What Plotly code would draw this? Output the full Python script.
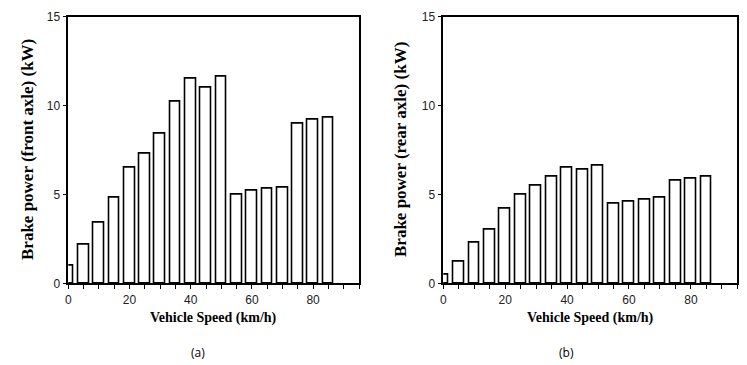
import plotly.graph_objects as go

speed = [0, 5, 10, 15, 20, 25, 30, 35, 40, 45, 50, 55, 60, 65, 70, 75, 80, 85]
front_power = [1.0, 2.2, 3.4, 4.8, 6.5, 7.3, 8.4, 10.2, 11.5, 11.0, 11.6, 5.0, 5.2, 5.3, 5.4, 9.0, 9.2, 9.3]
rear_power = [0.5, 1.2, 2.3, 3.0, 4.2, 5.0, 5.5, 6.0, 6.5, 6.4, 6.6, 4.5, 4.6, 4.7, 4.8, 5.8, 5.9, 6.0]
x_ticks = [0, 20, 40, 60, 80]
y_ticks = [0, 5, 10, 15]
y_titles = ["Brake power (front axle) (kW)", "Brake power (rear axle) (kW)"]
panel_labels = ["(a)", "(b)"]

W, H = 747, 365
fig = go.Figure()

bar_style = dict(marker=dict(color="white", line=dict(color="black", width=1.6)),
                 width=3.5, showlegend=False, hoverinfo="x+y")
fig.add_trace(go.Bar(x=speed, y=front_power, xaxis="x", yaxis="y", **bar_style))
fig.add_trace(go.Bar(x=speed, y=rear_power, xaxis="x2", yaxis="y2", **bar_style))

tick_font = dict(family="Liberation Sans, Arial", size=12, color="#222")
xax = dict(range=[0, 95], tickvals=x_ticks, ticks="outside", ticklen=4, tickwidth=1.3,
           tickcolor="black", showline=True, linecolor="black", linewidth=1.6,
           mirror=True, showgrid=False, zeroline=False, tickfont=tick_font, automargin=False,
           minor=dict(dtick=5, tick0=0, ticks="outside", ticklen=4, tickwidth=1.3,
                      tickcolor="black", showgrid=False), fixedrange=True)
yax = dict(range=[0, 15], tickvals=y_ticks, ticks="outside", ticklen=4, tickwidth=1.3,
           tickcolor="black", showline=True, linecolor="black", linewidth=1.6, automargin=False,
           mirror=True, showgrid=False, zeroline=False, tickfont=tick_font, fixedrange=True)

ydom = [1 - 283.3 / H, 1 - 16.7 / H]
doms = [[68.3 / W, 359.0 / W], [443.3 / W, 737.3 / W]]

fig.update_layout(
    width=W, height=H, margin=dict(l=0, r=0, t=0, b=0, autoexpand=False),
    plot_bgcolor="white", paper_bgcolor="white", bargap=0,
    xaxis=dict(domain=doms[0], anchor="y", **xax),
    yaxis=dict(domain=ydom, anchor="x", **yax),
    xaxis2=dict(domain=doms[1], anchor="y2", **xax),
    yaxis2=dict(domain=ydom, anchor="x2", **yax),
)

annotations = []
for i, d in enumerate(doms):
    cx = (d[0] + d[1]) / 2
    annotations.append(dict(text="<b>Vehicle Speed (km/h)</b>", x=cx, y=1 - 318 / H,
                            xref="paper", yref="paper", showarrow=False,
                            font=dict(family="Liberation Serif, Times New Roman", size=14, color="black"),
                            xanchor="center", yanchor="middle"))
    annotations.append(dict(text="<b>" + y_titles[i] + "</b>", x=(27 + 373 * i) / W,
                            y=(ydom[0] + ydom[1]) / 2, xref="paper", yref="paper",
                            showarrow=False,
                            font=dict(family="Liberation Serif, Times New Roman", size=17, color="black"),
                            textangle=-90, xanchor="center", yanchor="middle"))
    annotations.append(dict(text=panel_labels[i], x=(198 + 368 * i) / W, y=1 - 352.5 / H,
                            xref="paper", yref="paper", showarrow=False,
                            font=dict(family="Open Sans, Liberation Sans", size=12, color="black"),
                            xanchor="center", yanchor="middle"))
fig.update_layout(annotations=annotations)

fig.write_html("out.html", config={"displayModeBar": False},
               post_script="document.body.style.margin='0';document.body.style.overflow='hidden';")
